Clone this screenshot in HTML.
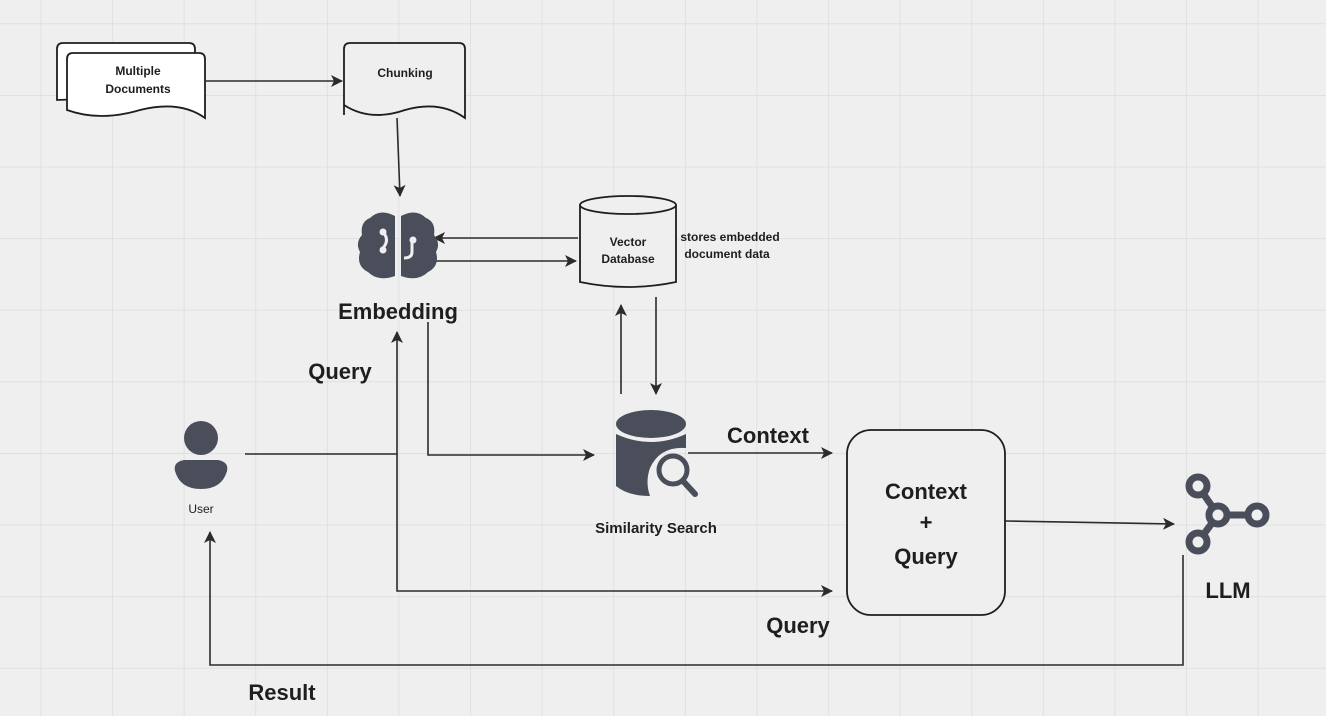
<!DOCTYPE html>
<html><head><meta charset="utf-8"><style>
html,body{margin:0;padding:0;background:#efefef;}
svg{display:block;}
text{font-family:"Liberation Sans","DejaVu Sans",sans-serif;font-weight:bold;fill:#1e1e1e;}
</style></head><body>
<svg width="1326" height="716" viewBox="0 0 1326 716" xmlns="http://www.w3.org/2000/svg">
<defs>
<pattern id="g" x="40.5" y="23.4" width="71.6" height="71.6" patternUnits="userSpaceOnUse">
<path d="M0 0H71.6M0 0V71.6" stroke="#dcdcdc" stroke-width="1.5" fill="none"/>
</pattern>
<marker id="a" markerWidth="14" markerHeight="14" refX="11" refY="6" orient="auto" markerUnits="userSpaceOnUse">
<path d="M0 0L12 6L0 12L3 6Z" fill="#2b2b2b"/>
</marker>
</defs>
<rect width="1326" height="716" fill="#efefef"/>
<rect width="1326" height="716" fill="url(#g)"/>

<g stroke="#1e1e1e" stroke-width="1.8" fill="#fff">
<path d="M57 100V49Q57 43 63 43H189Q195 43 195 49V95Z"/>
<path d="M67 110V59Q67 53 73 53H199Q205 53 205 59V118Q180 100 140 110Q100 122 67 110Z"/>
<path d="M344 115V49Q344 43 350 43H459Q465 43 465 49V118Q440 100 405 110Q370 122 344 105Z" fill="#efefef"/>
</g>
<text x="138" y="75" font-size="12" text-anchor="middle">Multiple</text>
<text x="138" y="93" font-size="12" text-anchor="middle">Documents</text>
<text x="405" y="77" font-size="12" text-anchor="middle">Chunking</text>

<g stroke="#2b2b2b" stroke-width="1.6" fill="none" marker-end="url(#a)">
<path d="M205 81H342"/>
<path d="M397 118L400 196"/>
<path d="M578 238H434"/>
<path d="M432 261H576"/>
<path d="M621 394V305"/>
<path d="M656 297V394"/>
<path d="M245 454H397V332"/>
<path d="M428 322V455H594"/>
<path d="M397 454V591H832"/>
<path d="M688 453H832"/>
<path d="M1005 521L1174 524"/>
<path d="M1183 555V665H210V532"/>
</g>

<!-- brain -->
<g fill="#4a4e5b">
<path d="M395 216Q380 208 370 218Q360 222 362 235Q355 243 360 252Q356 266 368 272Q378 282 395 276Z"/>
<path d="M401 216Q416 208 426 218Q436 222 434 235Q441 243 436 252Q440 266 428 272Q418 282 401 276Z"/>
</g>
<g stroke="#efefef" stroke-width="3" fill="none">
<path d="M383 232Q390 240 383 248"/><path d="M412 240V252Q412 258 404 258"/>
</g>
<g fill="#efefef"><circle cx="383" cy="232" r="3.5"/><circle cx="383" cy="250" r="3.5"/><circle cx="413" cy="240" r="3.5"/></g>
<text x="398" y="319" font-size="22" text-anchor="middle">Embedding</text>

<!-- vector db -->
<g stroke="#1e1e1e" stroke-width="1.8" fill="#efefef">
<path d="M580 205V282Q628 292 676 282V205"/>
<ellipse cx="628" cy="205" rx="48" ry="9"/>
</g>
<text x="628" y="246" font-size="12" text-anchor="middle">Vector</text>
<text x="628" y="263" font-size="12" text-anchor="middle">Database</text>
<text x="730" y="241" font-size="12" text-anchor="middle">stores embedded</text>
<text x="727" y="258" font-size="12" text-anchor="middle">document data</text>

<!-- similarity icon -->
<g fill="#4a4e5b">
<ellipse cx="651" cy="424" rx="35" ry="14"/>
<path d="M616 434Q651 450 686 434V448Q660 446 650 468Q645 482 650 496Q628 496 616 486Z"/>
</g>
<circle cx="673" cy="470" r="14" fill="none" stroke="#4a4e5b" stroke-width="5"/>
<path d="M683 481L695 494" stroke="#4a4e5b" stroke-width="6" stroke-linecap="round"/>
<text x="656" y="533" font-size="15" text-anchor="middle">Similarity Search</text>

<!-- user -->
<g fill="#4a4e5b">
<circle cx="201" cy="438" r="17"/>
<path d="M175 471Q173 462 184 460H218Q229 462 227 471Q222 489 201 489Q180 489 175 471Z"/>
</g>
<text x="201" y="513" font-size="12" text-anchor="middle" style="font-weight:normal">User</text>

<text x="340" y="379" font-size="22" text-anchor="middle">Query</text>
<text x="768" y="443" font-size="22" text-anchor="middle">Context</text>

<rect x="847" y="430" width="158" height="185" rx="24" fill="#efefef" stroke="#1e1e1e" stroke-width="1.8"/>
<text x="926" y="499" font-size="22" text-anchor="middle">Context</text>
<text x="926" y="530" font-size="22" text-anchor="middle">+</text>
<text x="926" y="564" font-size="22" text-anchor="middle">Query</text>

<!-- LLM -->
<g stroke="#4a4e5b" stroke-width="7" fill="none">
<path d="M1198 486L1218 515L1198 542M1218 515H1257"/>
</g>
<g fill="#efefef" stroke="#4a4e5b" stroke-width="7">
<circle cx="1198" cy="486" r="9"/><circle cx="1218" cy="515" r="9"/><circle cx="1257" cy="515" r="9"/><circle cx="1198" cy="542" r="9"/>
</g>
<text x="1228" y="598" font-size="22" text-anchor="middle">LLM</text>
<text x="798" y="633" font-size="22" text-anchor="middle">Query</text>
<text x="282" y="700" font-size="22" text-anchor="middle">Result</text>
</svg>
</body></html>
